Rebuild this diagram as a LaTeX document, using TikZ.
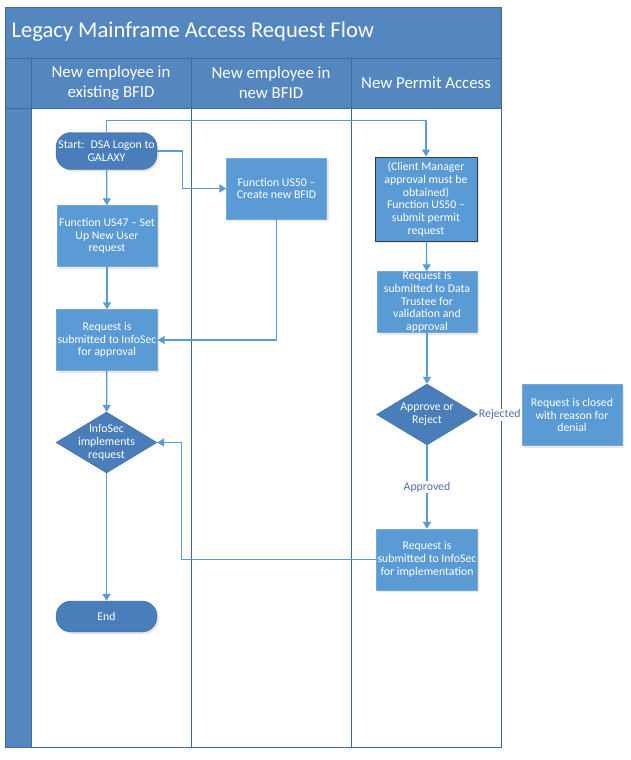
\documentclass[tikz,border=0pt]{standalone}
\usepackage{fontspec}
\setmainfont{Carlito}
\usetikzlibrary{arrows.meta,positioning,shapes.geometric,shadows}
\definecolor{vsblue}{RGB}{91,155,213}
\definecolor{vsdark}{RGB}{74,126,187}
\definecolor{vsband}{RGB}{84,134,192}
\definecolor{vsline}{RGB}{65,105,155}
\definecolor{vslabel}{RGB}{79,113,170}
\definecolor{vsedge}{RGB}{50,58,76}
\newcommand{\nodefont}{\fontsize{11.8}{12.7}\selectfont}
\tikzset{
  procbox/.style={draw=vsblue!85!white, fill=vsblue, text=white, font=\nodefont,
                  align=center, minimum width=100pt, minimum height=61pt, inner sep=1pt,
                  drop shadow={opacity=0.18, shadow xshift=2pt, shadow yshift=-2pt}},
  termnode/.style={draw=vsline, fill=vsdark, text=white, font=\nodefont, align=center,
                   rounded corners=15pt, minimum width=101pt, minimum height=#1, inner sep=1pt,
                   drop shadow={opacity=0.18, shadow xshift=2pt, shadow yshift=-2pt}},
  decision/.style={diamond, draw=vsline, fill=vsdark, minimum width=101pt,
                   minimum height=61pt, inner sep=0pt},
  dtext/.style={text=white, font=\nodefont, align=center},
  flow/.style={draw=vsblue, line width=1.3pt, -{Triangle[length=7pt,width=8pt]}},
  conn/.style={draw=vsblue, line width=1.3pt},
  edgelab/.style={fill=white, text=vslabel, font=\nodefont, inner sep=1pt},
  lanehead/.style={text=white, font=\fontsize{16.8}{20}\selectfont, align=center},
  laneframe/.style={draw=vsline, line width=0.9pt},
}

\begin{document}
\begin{tikzpicture}[x=1pt, y=-1pt]
\useasboundingbox (0,0) rectangle (631,760);

% Swimlane frame
\draw[laneframe, fill=vsband] (5,7) rectangle (501,58);
\draw[laneframe, fill=vsband] (5,58) rectangle (501,108);
\draw[laneframe, fill=vsband] (5,108) rectangle (31,747);
\foreach \xa/\xb in {31/191, 191/351, 351/501}
  \draw[laneframe, fill=white] (\xa,108) rectangle (\xb,747);
\foreach \xl in {31, 191, 351}
  \draw[laneframe] (\xl,58) -- (\xl,108);

\node[anchor=west, text=white, font=\fontsize{22.6}{26}\selectfont] (title) at (8,32) {Legacy Mainframe Access Request Flow};
\node[lanehead] (laneA) at (111,83) {New employee in\\existing BFID};
\node[lanehead] (laneB) at (271,83) {New employee in\\new BFID};
\node[lanehead] (laneC) at (426,83) {New Permit Access};

% Lane 1
\node[termnode=37pt] (start) at (106.5,151) {Start:~ DSA Logon to\\GALAXY};
\node[procbox] (us47) at (107,236) {Function US47 -- Set\\Up New User\\request};
\node[procbox] (approval) at (107,340) {Request is\\submitted to InfoSec\\for approval};
\node[decision, label={[dtext]center:{InfoSec\\implements\\request}}] (infosec) at (106.5,442.5) {};
\node[termnode=31pt] (finish) at (106.5,616.5) {End};

% Lane 2
\node[procbox] (us50) at (276.5,188.5) {Function US50 --\\Create new BFID};

% Lane 3
\node[procbox, draw=vsedge, line width=1pt, minimum width=102pt, minimum height=84pt] (client) at (426,199) {(Client Manager\\approval must be\\obtained)\\Function US50 --\\submit permit\\request};
\node[procbox, inner sep=0pt] (trustee) at (427,302) {Request is\\submitted to Data\\Trustee for\\validation and\\approval};
\node[decision, label={[dtext]center:{Approve or\\Reject}}] (decide) at (427,414.5) {};
\node[procbox] (impl) at (427,559.5) {Request is\\submitted to InfoSec\\for implementation};
\node[procbox] (closed) at (572,415) {Request is closed\\with reason for\\denial};

% Connectors
\draw[flow] (start) -- (us47);
\draw[flow] (start.east) -- ++(25,0) |- (us50.west);
\draw[flow] (start.north) -- ++(0,-12) -| (client.north);
\draw[flow] (us47) -- (approval);
\draw[flow] (us50.south) |- (approval.east);
\draw[flow] (approval) -- (infosec);
\draw[flow] (infosec) -- (finish);
\draw[flow] (client) -- (trustee);
\draw[flow] (trustee) -- (decide);
\draw[conn] (decide.east) -- node[edgelab] {Rejected} (closed.west);
\draw[flow] (decide.south) -- node[edgelab] {Approved} (impl.north);
\draw[flow] (impl.west) -- ++(-195,0) |- (infosec.east);
\end{tikzpicture}
\end{document}
